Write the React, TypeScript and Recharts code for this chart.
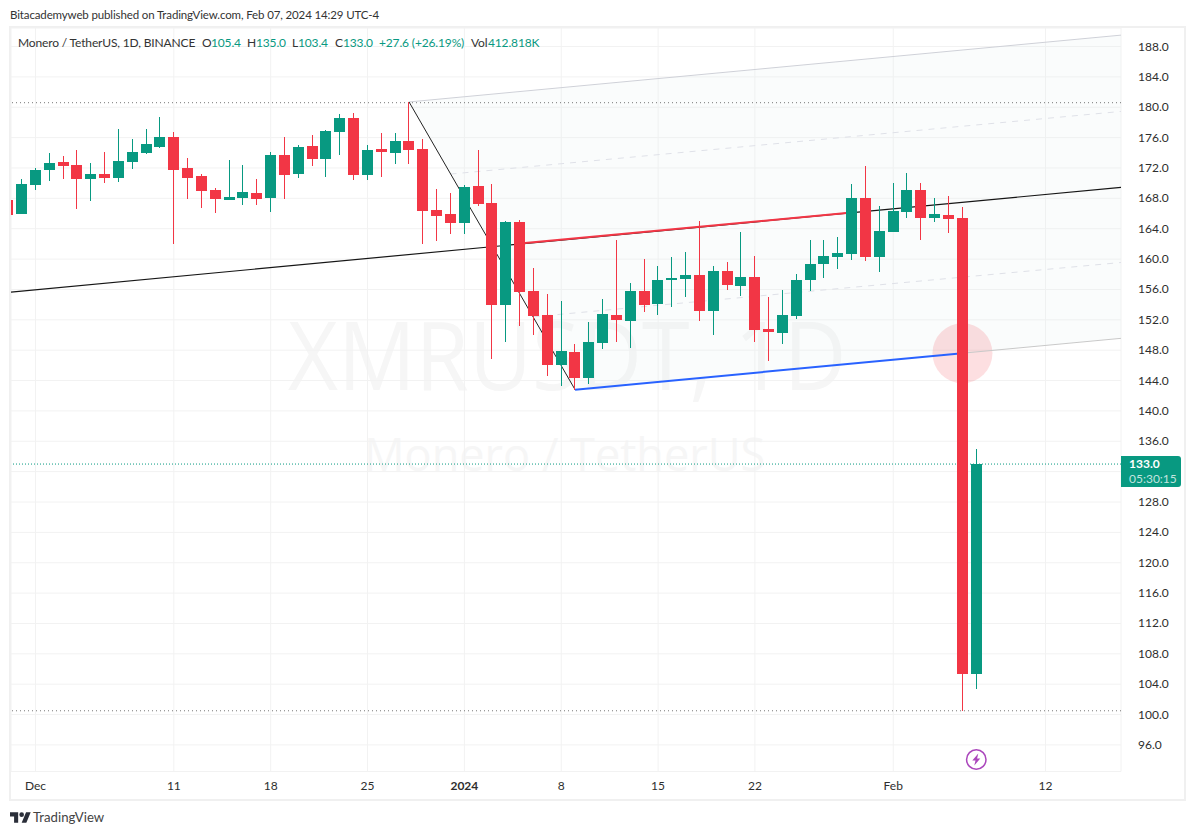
import React from "react";
import {
  ComposedChart, XAxis, YAxis, CartesianGrid, Bar, Line, Area, ReferenceLine, ReferenceDot,
} from "recharts";

const UP = "#089981";
const DOWN = "#f23645";
const FONT = "Lato, 'Open Sans', sans-serif";

// day index 0 = Dec 1 2023
const firstDay = -2;
const opens = [167.8,165.9,169.8,171.7,172.8,172.4,170.6,171.2,170.7,172.8,174,174.8,176.1,172,170.9,169.1,167.8,168,168.7,168,173.7,171.2,174.9,173.2,176.7,178.6,171.1,174.5,174,175.5,174.5,166.5,165.9,164.8,169.6,167.4,154,164.9,155.8,152.6,146,147.8,144.3,149,152.6,151.8,155.8,154.1,157.3,157.4,157.9,153.2,158.4,156.5,157.6,150.8,150.3,152.5,157.2,159.4,160.3,160.7,168,160.3,163.6,166.2,169.1,165.4,165.8,165.4,105.4];
const highs = [168.5,170.5,172,174,173.6,174.4,172.7,174.1,177.1,175.8,177.1,178.7,176.7,173.3,171.2,169.4,173,172.4,170.6,174.1,176.1,175,176.3,177,179.1,179.2,175,176.6,176.6,180.7,175.8,169.2,168.7,169.8,174.4,169.9,165,165.2,158.8,155.4,154.5,148.8,151.7,154.7,162.5,156.9,160,159.1,160.3,160.9,165,159.1,159.6,163.6,160.4,155,155.9,158,162.5,162.5,162.9,169.9,172.3,167,170,171.3,170,168,168.3,166.9,135];
const lows = [165.5,165.9,169.1,170.3,170.6,166.6,167.7,170,170.2,171.9,173.8,174.6,162,167.9,166.7,166.1,167.8,167.1,167.1,166.2,167.9,170.7,172.3,170.8,173.7,170.4,170.4,170.8,172.5,172.5,162,162.4,163.3,163.3,167,146.8,149.1,151.2,150,144.6,143.3,142.8,143.5,148.2,149.1,148.3,153,152.6,153.7,155,151.8,150,155.9,155.1,149.1,146.6,148.8,152.1,155.8,157.5,158.7,159.9,159.8,158.3,163.6,165.4,162.5,164.9,163.4,100.5,103.4];
const closes = [165.8,169.9,171.7,172.7,172.3,170.6,171.2,170.7,172.9,174.1,175.2,176.1,171.7,170.7,169,167.9,168.2,168.8,167.9,173.7,171.1,174.8,173.2,176.9,178.6,171.1,174.4,174.1,175.5,174.4,166.3,165.7,164.8,169.5,167.3,154,164.9,155.7,152.5,146,147.9,144.3,149.1,152.8,152,155.8,154,157.2,157.5,157.9,153.2,158.4,156.6,157.6,150.7,150.4,152.6,157.2,159.4,160.4,160.8,168,160.3,163.7,166.3,169.1,165.4,165.9,165.3,105.4,133];

const priceTicks = [96,100,104,108,112,116,120,124,128,132,136,140,144,148,152,156,160,164,168,172,176,180,184,188];
const hiddenPriceLabel = 132; // covered by the live price tag in the reference
const dayTicks = [0,10,17,24,31,38,45,52,62,73];
const dayLabels = ["Dec","11","18","25","2024","8","15","22","Feb","12"];

const xDomain: [number, number] = [-1.771, 78.46];
const yDomain: [number, number] = [92.5, 190.44];

const rows = opens.map((open, k) => ({
  i: firstDay + k,
  open,
  close: closes[k],
  high: highs[k],
  low: lows[k],
  range: [lows[k], highs[k]],
}));

const diagonalLine = [{ i: 27, p: 180.7 }, { i: 39, p: 142.8 }];
const medianLine = [{ i: -1.771, p: 155.65 }, { i: 78.46, p: 169.45 }];
const medianRed = [{ i: 35, p: 162.04 }, { i: 59, p: 166.13 }];
const lowerBlue = [{ i: 39, p: 142.8 }, { i: 67, p: 147.6 }];
const lowerGrey = [{ i: 67, p: 147.6 }, { i: 78.46, p: 149.56 }];
const upperGrey = [{ i: 27, p: 180.7 }, { i: 78.46, p: 189.5 }];
const upperDash = [{ i: 30, p: 171.2 }, { i: 78.46, p: 179.45 }];
const lowerDash = [{ i: 36, p: 152.4 }, { i: 78.46, p: 159.55 }];
const channelBand = [
  { i: 27, band: [180.7, 180.7] },
  { i: 39, band: [142.8, 182.7] },
  { i: 78.46, band: [149.56, 189.5] },
];

function Candle(props: any) {
  const { x, y, width, height, payload } = props;
  const c = Math.floor(x + width / 2);
  const span = payload.high - payload.low || 1;
  const toY = (v: number) => y + ((payload.high - v) / span) * height;
  const top = Math.round(toY(Math.max(payload.open, payload.close)));
  const bottom = Math.round(toY(Math.min(payload.open, payload.close)));
  const color = payload.close >= payload.open ? UP : DOWN;
  return (
    <g shapeRendering="crispEdges">
      <rect x={c} y={y} width={1} height={height} fill={color} />
      <rect x={c - 5} y={top} width={11} height={Math.max(1, bottom - top)} fill={color} />
    </g>
  );
}

function TimeTick(props: any) {
  const { x, payload } = props;
  const label = dayLabels[dayTicks.indexOf(payload.value)];
  return (
    <text x={x} y={790} textAnchor="middle" fontFamily={FONT} fontSize={12}
      fontWeight={label === "2024" ? 700 : 400} fill="#2e2e2e">
      {label}
    </text>
  );
}

function PriceTick(props: any) {
  const { x, y, payload } = props;
  if (payload.value === hiddenPriceLabel) return <g />;
  return (
    <text x={x + 9} y={y + 4} textAnchor="start" fontFamily={FONT} fontSize={12} fill="#2e2e2e">
      {payload.value.toFixed(1)}
    </text>
  );
}

function PriceTag(props: any) {
  const { cx, cy } = props;
  return (
    <g fontFamily={FONT} fontSize={12}>
      <path d={`M${cx} ${cy - 8}h57a3 3 0 0 1 3 3v25a3 3 0 0 1 -3 3h-57z`} fill={UP} />
      <text x={cx + 8} y={cy + 4} fill="#fff" fontWeight={700}>133.0</text>
      <text x={cx + 8} y={cy + 18.5} fill="#fff" fillOpacity={0.75}>05:30:15</text>
    </g>
  );
}

function BoltIcon(props: any) {
  const { cx, cy } = props;
  return (
    <g>
      <circle cx={cx} cy={cy} r={9.7} fill="#fff" stroke="#ab47bc" strokeWidth={1.5} />
      <path d={`M${cx + 2} ${cy - 6}L${cx - 4} ${cy + 1}h3.2L${cx - 2} ${cy + 6}L${cx + 4} ${cy - 1}h-3.2z`} fill="#ab47bc" />
    </g>
  );
}

const legendValue: React.CSSProperties = { position: "absolute", color: UP, top: 0 };
const legendKey: React.CSSProperties = { position: "absolute", color: "#333", top: 0 };

function thinLine(data: any[], stroke: string, width: number, dash?: string, z?: number) {
  return (
    <Line data={data} dataKey="p" stroke={stroke} strokeWidth={width} strokeDasharray={dash}
      dot={false} activeDot={false} legendType="none" isAnimationActive={false} zIndex={z} type="linear" />
  );
}

export default function App() {
  return (
    <div style={{ position: "absolute", left: 0, top: 0, width: 1195, height: 835, background: "#fff", overflow: "hidden", fontFamily: FONT }}>
      {/* header */}
      <div style={{ position: "absolute", left: 10, top: 8, fontSize: 11.5, letterSpacing: "-0.13px", color: "#333", whiteSpace: "nowrap" }}>
        Bitacademyweb published on TradingView.com, Feb 07, 2024 14:29 UTC-4
      </div>
      {/* frame */}
      <div style={{ position: "absolute", left: 9, top: 26, width: 1173, height: 771, border: "2px solid #f0f0f0" }} />
      {/* watermark */}
      <div style={{ position: "absolute", left: 288, top: 295, fontSize: 96, lineHeight: "115px", color: "#f6f6f6", whiteSpace: "nowrap", fontFamily: "'Open Sans', sans-serif", transform: "scaleX(0.9)", transformOrigin: "left top" }}>
        XMRUSDT, 1D
      </div>
      <div style={{ position: "absolute", left: 364, top: 425, fontSize: 46, lineHeight: "56px", color: "#f6f6f6", whiteSpace: "nowrap", fontFamily: "'Open Sans', sans-serif", transform: "scaleX(0.98)", transformOrigin: "left top" }}>
        Monero / TetherUS
      </div>

      <div style={{ position: "absolute", left: 0, top: 0 }}>
        <ComposedChart width={1195} height={835} data={rows} margin={{ top: 28, right: 0, bottom: 0, left: 11 }}>
          <CartesianGrid stroke="#f2f2f2" strokeWidth={1} />
          <XAxis dataKey="i" type="number" domain={xDomain} allowDataOverflow ticks={dayTicks} interval={0}
            height={63.5} axisLine={false} tickLine={false} tick={<TimeTick />} />
          <YAxis type="number" orientation="right" domain={yDomain} allowDataOverflow ticks={priceTicks} interval={0}
            width={74} axisLine={false} tickLine={false} tick={<PriceTick />} />

          <Area data={channelBand} dataKey="band" stroke="none" fill="#e6efef" fillOpacity={0.18}
            dot={false} activeDot={false} legendType="none" isAnimationActive={false} type="linear" zIndex={50} />

          <ReferenceLine y={180.6} stroke="#777" strokeDasharray="1 3" zIndex={60} />
          <ReferenceLine y={100.5} stroke="#777" strokeDasharray="1 3" zIndex={60} />
          <ReferenceLine y={133} stroke={UP} strokeDasharray="1 2" zIndex={60} />

          <ReferenceDot x={67} y={147.6} r={30} fill={DOWN} fillOpacity={0.16} stroke="none" zIndex={70} />

          {thinLine(upperGrey, "#cfd1d8", 1, undefined, 80)}
          {thinLine(lowerGrey, "#c9c9c9", 1, undefined, 80)}
          {thinLine(upperDash, "#dfe1e8", 1, "6 6", 80)}
          {thinLine(lowerDash, "#dfe1e8", 1, "6 6", 80)}
          {thinLine(medianLine, "#161616", 1.2, undefined, 85)}
          {thinLine(diagonalLine, "#222222", 1, undefined, 85)}
          {thinLine(medianRed, DOWN, 2, undefined, 90)}
          {thinLine(lowerBlue, "#2962ff", 2, undefined, 90)}

          <Bar dataKey="range" barSize={11} shape={<Candle />} isAnimationActive={false} legendType="none" zIndex={500} />

          <ReferenceDot x={68} y={94.08} r={10} shape={<BoltIcon />} ifOverflow="visible" zIndex={600} />
          <ReferenceDot x={xDomain[1]} y={133} r={1} shape={<PriceTag />} ifOverflow="visible" zIndex={600} />
        </ComposedChart>
      </div>

      {/* legend */}
      <div style={{ position: "absolute", left: 0, top: 35, width: 600, height: 16, fontSize: 12, lineHeight: "15px", letterSpacing: "-0.15px", whiteSpace: "nowrap" }}>
        <span style={{ ...legendKey, left: 18 }}>Monero / TetherUS, 1D, BINANCE</span>
        <span style={{ ...legendKey, left: 202 }}>O</span><span style={{ ...legendValue, left: 211 }}>105.4</span>
        <span style={{ ...legendKey, left: 247 }}>H</span><span style={{ ...legendValue, left: 256 }}>135.0</span>
        <span style={{ ...legendKey, left: 292 }}>L</span><span style={{ ...legendValue, left: 298 }}>103.4</span>
        <span style={{ ...legendKey, left: 335 }}>C</span><span style={{ ...legendValue, left: 343 }}>133.0</span>
        <span style={{ ...legendValue, left: 379 }}>+27.6 (+26.19%)</span>
        <span style={{ ...legendKey, left: 471 }}>Vol</span><span style={{ ...legendValue, left: 488 }}>412.818K</span>
      </div>

      {/* footer */}
      <svg style={{ position: "absolute", left: 10, top: 810 }} width={21} height={14} viewBox="0 0 36 24">
        <path d="M14 22H7V11H0V4h14v18zM28 22h-8l7.5-18h8L28 22z" fill="#2a2e39" />
        <circle cx={20} cy={8} r={4} fill="#2a2e39" />
      </svg>
      <div style={{ position: "absolute", left: 33, top: 809, fontSize: 13.2, color: "#444", whiteSpace: "nowrap" }}>TradingView</div>
    </div>
  );
}
